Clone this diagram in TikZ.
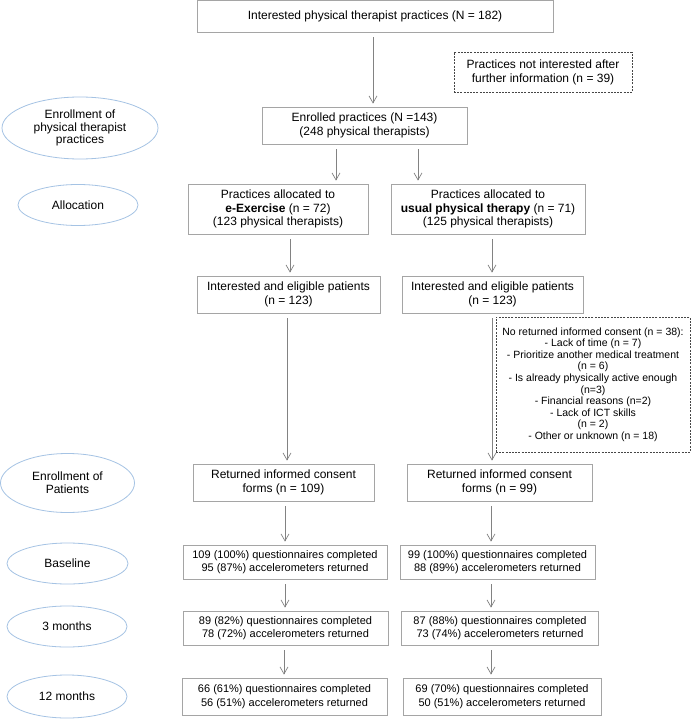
\documentclass[tikz,border=0pt]{standalone}
\usepackage{fontspec}
\setmainfont{Liberation Sans}
\usetikzlibrary{shapes.geometric,arrows.meta}
\definecolor{boxgray}{RGB}{165,165,165}
\definecolor{arrgray}{RGB}{130,130,130}
\definecolor{ellblue}{RGB}{165,195,228}
\definecolor{dashgray}{RGB}{70,70,70}
\tikzset{
  wh/.style 2 args={minimum width=#1bp, minimum height=#2bp},
  box/.style={draw=boxgray, line width=0.8bp, fill=white, align=center, inner sep=0pt,
    font=\fontsize{12bp}{13.6bp}\selectfont},
  smallbox/.style={box, font=\fontsize{11bp}{13.6bp}\selectfont},
  dbox/.style={draw=dashgray, line width=0.7bp, dash pattern=on 2bp off 1.2bp, fill=white,
    align=center, inner sep=0pt, font=\fontsize{12bp}{13.8bp}\selectfont},
  reasonbox/.style={dbox, font=\fontsize{10.5bp}{11.6bp}\selectfont},
  phase/.style={ellipse, draw=ellblue, line width=0.8bp, align=center, inner sep=0pt,
    font=\fontsize{12bp}{13.2bp}\selectfont},
  arr/.style={draw=arrgray, line width=0.7bp, -{Straight Barb[length=7bp,width=8bp]},
    shorten <=5bp, shorten >=3bp}
}
\begin{document}
\begin{tikzpicture}[x=1bp,y=-1bp]
\useasboundingbox[fill=white] (0,0) rectangle (691,719);

% main flow boxes
\node[box, wh={356}{32}] (top) at (375,16) {Interested physical therapist practices (N = 182)};
\node[dbox, wh={178}{40}] (notint) at (543,72) {Practices not interested after\\further information (n = 39)};
\node[box, wh={205}{37}] (enrolled) at (364.5,125.5) {Enrolled practices (N =143)\\(248 physical therapists)};
\node[box, wh={180}{50}] (allocL) at (278,209) {Practices allocated to\\\textbf{e-Exercise} (n = 72)\\(123 physical therapists)};
\node[box, wh={194}{50}] (allocR) at (488,209) {Practices allocated to\\\textbf{usual physical therapy} (n = 71)\\(125 physical therapists)};
\node[box, wh={183}{37}] (intL) at (288.5,294.5) {Interested and eligible patients\\(n = 123)};
\node[box, wh={181}{37}] (intR) at (492.5,294.5) {Interested and eligible patients\\(n = 123)};
\node[reasonbox, wh={194}{135}] (reasons) at (593,384.5) {No returned informed consent (n = 38):\\- Lack of time (n = 7)\\- Prioritize another medical treatment\\(n = 6)\\- Is already physically active enough\\(n=3)\\- Financial reasons (n=2)\\- Lack of ICT skills\\(n = 2)\\- Other or unknown (n = 18)};
\node[box, wh={181}{37}] (retL) at (283.5,482.5) {Returned informed consent\\forms (n = 109)};
\node[box, wh={185}{37}] (retR) at (499.5,482.5) {Returned informed consent\\forms (n = 99)};
\node[smallbox, wh={204}{34}] (baseL) at (285,562) {109 (100\%) questionnaires completed\\95 (87\%) accelerometers returned};
\node[smallbox, wh={195}{34}] (baseR) at (497.5,562) {99 (100\%) questionnaires completed\\88 (89\%) accelerometers returned};
\node[smallbox, wh={205}{34}] (m3L) at (285.5,628) {89 (82\%) questionnaires completed\\78 (72\%) accelerometers returned};
\node[smallbox, wh={197}{34}] (m3R) at (500,628) {87 (88\%) questionnaires completed\\73 (74\%) accelerometers returned};
\node[smallbox, wh={205}{37}] (m12L) at (284.5,696.5) {66 (61\%) questionnaires completed\\56 (51\%) accelerometers returned};
\node[smallbox, wh={198}{37}] (m12R) at (502,696.5) {69 (70\%) questionnaires completed\\50 (51\%) accelerometers returned};

% phase ellipses
\node[phase, wh={156}{62}, font=\fontsize{12bp}{12.5bp}\selectfont] (ph1) at (80,128) {Enrollment of\\physical therapist\\practices};
\node[phase, wh={120}{41}] (ph2) at (78,205) {Allocation};
\node[phase, wh={134}{59}] (ph3) at (67.5,483) {Enrollment of\\Patients};
\node[phase, wh={121}{41}] (ph4) at (67.5,563.5) {Baseline};
\node[phase, wh={120}{41}] (ph5) at (67,626.5) {3 months};
\node[phase, wh={120}{43}] (ph6) at (67,696.5) {12 months};

% arrow columns
\coordinate (c1) at (373,0);
\coordinate (c2) at (336,0);
\coordinate (c3) at (418,0);
\coordinate (c4) at (290,0);
\coordinate (c5) at (492,0);
\coordinate (c6) at (287,0);
\coordinate (c7) at (285,0);
\coordinate (c8) at (491,0);
\coordinate (c9) at (284,0);

\draw[arr] (top.south -| c1) -- (enrolled.north -| c1);
\draw[arr] (enrolled.south -| c2) -- (allocL.north -| c2);
\draw[arr] (enrolled.south -| c3) -- (allocR.north -| c3);
\draw[arr] (allocL.south -| c4) -- (intL.north -| c4);
\draw[arr] (allocR.south -| c5) -- (intR.north -| c5);
\draw[arr] (intL.south -| c6) -- (retL.north -| c6);
\draw[arr] (intR.south -| c5) -- (retR.north -| c5);
\draw[arr] (retL.south -| c7) -- (baseL.north -| c7);
\draw[arr] (retR.south -| c8) -- (baseR.north -| c8);
\draw[arr] (baseL.south -| c7) -- (m3L.north -| c7);
\draw[arr] (baseR.south -| c8) -- (m3R.north -| c8);
\draw[arr] (m3L.south -| c9) -- (m12L.north -| c9);
\draw[arr] (m3R.south -| c8) -- (m12R.north -| c8);
\end{tikzpicture}
\end{document}
